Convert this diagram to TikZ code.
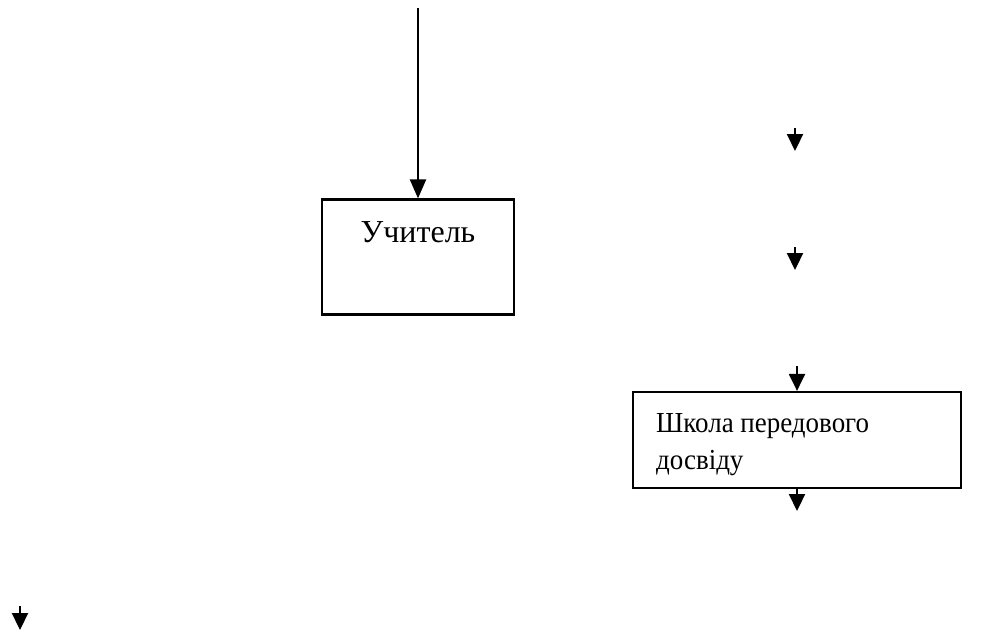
\documentclass[tikz,border=0pt]{standalone}
\usepackage{fontspec}
\setmainfont{Liberation Serif}
\newfontfamily\narrowserif[FakeStretch=0.93]{Liberation Serif}
\usetikzlibrary{arrows.meta}
\begin{document}
\begin{tikzpicture}[x=1pt,y=-1pt,
  box/.style={draw,line width=2.2pt,inner sep=0pt},
  txt/.style={font=\narrowserif\fontsize{29}{36}\selectfont,inner sep=0pt,anchor=base west},
  bigtxt/.style={font=\fontsize{32}{38}\selectfont,inner sep=0pt,anchor=base},
  arr/.style={line width=2.2pt,-{Triangle[width=16pt,length=17pt]}}]
\useasboundingbox (0,0) rectangle (995,634);
% Teacher box
\node[box,minimum width=192pt,minimum height=115pt] (teacher) at (418,257) {};
\node[bigtxt] (teachertext) at (418,242) {Учитель};
\coordinate (topstart) at (418,8);
\draw[arr,-{Triangle[width=16pt,length=19pt]}] (topstart) -- (teacher.north);
% School box
\node[box,minimum width=328pt,minimum height=96pt] (school) at (797,440) {};
\node[txt] (schooltext) at (656,432) {Школа передового};
\node[txt] (schooltext2) at (656,469) {досвіду};
% small arrows
\coordinate (a1s) at (795,128); \coordinate (a1e) at (795,151);
\draw[arr] (a1s) -- (a1e);
\coordinate (a2s) at (795,247); \coordinate (a2e) at (795,270);
\draw[arr] (a2s) -- (a2e);
\coordinate (a3s) at (797,366);
\draw[arr] (a3s) -- (school.north -| a3s);
\coordinate (a4e) at (797,511);
\draw[arr] (school.south -| a4e) -- (a4e);
\coordinate (a5s) at (20,606); \coordinate (a5e) at (20,630);
\draw[arr] (a5s) -- (a5e);
\end{tikzpicture}
\end{document}
